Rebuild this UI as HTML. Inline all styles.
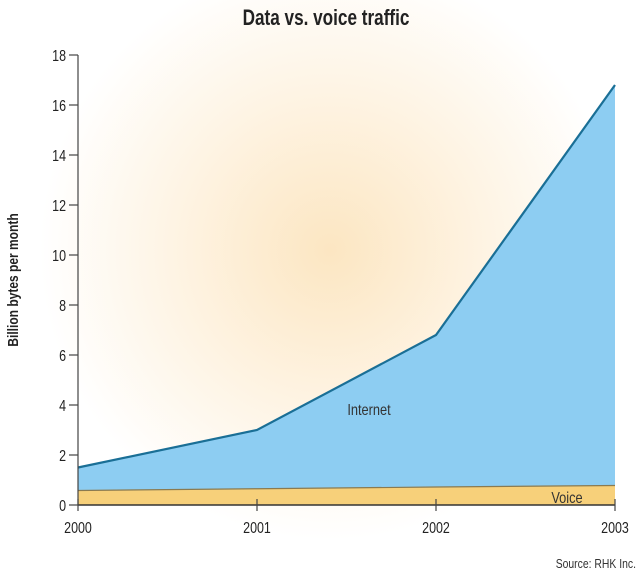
<!DOCTYPE html>
<html><head><meta charset="utf-8"><style>
body{margin:0;background:#fff}
svg{display:block;font-family:"Liberation Sans",sans-serif}
</style></head><body>
<svg id="chart" width="640" height="577" viewBox="0 0 640 577">
<defs>
<radialGradient id="glow" cx="330" cy="250" r="290" gradientUnits="userSpaceOnUse">
<stop offset="0" stop-color="#fce6c2"/>
<stop offset="0.55" stop-color="#fef4e4"/>
<stop offset="1" stop-color="#ffffff"/>
</radialGradient>
</defs>
<rect x="0" y="0" width="640" height="577" fill="url(#glow)"/>
<text x="0" y="0" text-anchor="middle" font-size="22" font-weight="bold" fill="#222" transform="translate(326 25) scale(0.78 1)">Data vs. voice traffic</text>
<text transform="translate(18 280) rotate(-90) scale(0.8 1)" text-anchor="middle" font-size="15" font-weight="bold" fill="#222">Billion bytes per month</text>
<g id="plot"></g>
<text x="0" y="0" text-anchor="end" font-size="13" fill="#333" transform="translate(636 568) scale(0.8 1)">Source: RHK Inc.</text>
</svg>
<script>
const years = ["2000","2001","2002","2003"];
const internet = [1.5, 3.0, 6.8, 16.8];
const voice = [0.58, 0.65, 0.72, 0.78];
const yTicks = [0,2,4,6,8,10,12,14,16,18];

const X0=78, X1=615, Y0=505, Y1=55, YMAX=18;
const x = i => X0 + (X1-X0)*i/(years.length-1);
const y = v => Y0 - (Y0-Y1)*v/YMAX;
const NS="http://www.w3.org/2000/svg";
const g=document.getElementById('plot');
function mk(tag, attrs){const e=document.createElementNS(NS,tag);for(const k in attrs)e.setAttribute(k,attrs[k]);g.appendChild(e);return e;}

let pts = internet.map((v,i)=>x(i)+","+y(v)).join(" ");
let vpts = voice.map((v,i)=>x(i)+","+y(v)).reverse().join(" ");
const ia = mk('polygon',{points:pts+" "+vpts,fill:"#8dcdf2"});


const il = mk('polyline',{points:pts,fill:"none",stroke:"#1a6f96","stroke-width":2.2});


const va = mk('polygon',{points:voice.map((v,i)=>x(i)+","+y(v)).join(" ")+" "+x(3)+","+y(0)+" "+x(0)+","+y(0),fill:"#f7d07a"});


const vl = mk('polyline',{points:voice.map((v,i)=>x(i)+","+y(v)).join(" "),fill:"none",stroke:"#8a7a50","stroke-width":1.2});



const ax = mk('line',{x1:X0,y1:Y1,x2:X0,y2:Y0,stroke:"#444","stroke-width":1.2});


const bx = mk('line',{x1:X0,y1:Y0,x2:X1,y2:Y0,stroke:"#333","stroke-width":1.5});



yTicks.forEach(t=>{
  const tk=mk('line',{x1:X0-9,y1:y(t),x2:X0,y2:y(t),stroke:"#444","stroke-width":1.2});
  
  
  const tl=mk('text',{x:0,y:0,"text-anchor":"end","font-size":16,fill:"#222",transform:`translate(${X0-12} ${y(t)+6}) scale(0.78 1)`});
  tl.textContent=t;
  
  
});
years.forEach((yr,i)=>{
  const tk=mk('line',{x1:x(i),y1:Y0-6,x2:x(i),y2:Y0+6,stroke:"#444","stroke-width":1.2});
  
  
  const tl=mk('text',{x:0,y:0,"text-anchor":"middle","font-size":16,fill:"#222",transform:`translate(${x(i)} 533) scale(0.78 1)`});
  tl.textContent=yr;
  
  
});
const lab1=mk('text',{x:0,y:0,"text-anchor":"middle","font-size":16,fill:"#333",transform:"translate(369 415) scale(0.8 1)"});
lab1.textContent="Internet";


const lab2=mk('text',{x:0,y:0,"text-anchor":"middle","font-size":16,fill:"#333",transform:"translate(567 503) scale(0.8 1)"});
lab2.textContent="Voice";


</script>
</body></html>
